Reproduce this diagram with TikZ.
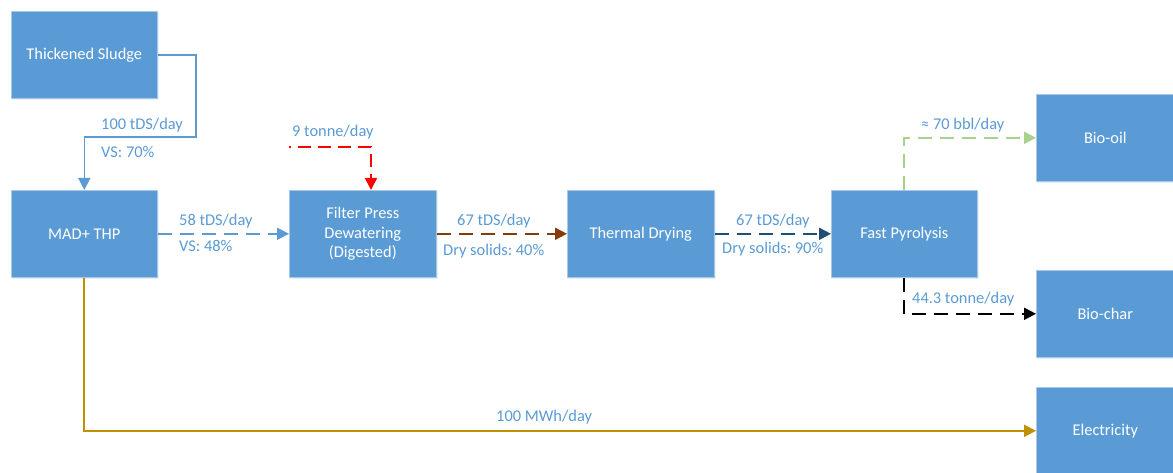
\documentclass[tikz,border=0pt]{standalone}
\usepackage{fontspec}
\setmainfont{Carlito}
\frenchspacing
\usetikzlibrary{arrows.meta,shadows}
\definecolor{boxblue}{HTML}{5B9BD5}
\definecolor{boxedge}{HTML}{A9C8E8}
\definecolor{labblue}{HTML}{5B9BD5}
\definecolor{brownline}{HTML}{843C0C}
\definecolor{navyline}{HTML}{1F4E79}
\definecolor{greenline}{HTML}{A9D18E}
\definecolor{goldline}{HTML}{BF9000}
\definecolor{redline}{HTML}{FF0000}
\begin{document}
\begin{tikzpicture}[x=1pt,y=-1pt,
  box/.style={fill=boxblue, draw=boxedge, line width=0.6pt, minimum height=87pt,
    text=white, font=\fontsize{16.4}{19.5}\selectfont, align=center, inner sep=0pt,
    anchor=north west, drop shadow={shadow xshift=1.5pt, shadow yshift=-1.5pt, fill=boxblue!25, opacity=0.6}},
  conn/.style={line width=2pt, -{Triangle[length=12pt,width=12pt]}},
  dashline/.style={dash pattern=on 14pt off 8pt},
  lab/.style={text=labblue, font=\fontsize{16.4}{19.5}\selectfont, anchor=west, inner sep=0pt}]
\useasboundingbox (0,0) rectangle (1173,473);
\fill[white] (0,0) rectangle (1173,473);
% boxes
\node[box, minimum width=146pt] (ts) at (11,11) {Thickened Sludge};
\node[box, minimum width=146pt] (mad) at (11,190) {MAD+ THP};
\node[box, minimum width=147pt] (fp) at (289,190) {Filter Press\\Dewatering\\(Digested)};
\node[box, minimum width=147pt] (td) at (567,190) {Thermal Drying};
\node[box, minimum width=146pt] (fpy) at (831,190) {Fast Pyrolysis};
\node[box, minimum width=150pt] (oil) at (1036,94) {\hspace*{-12pt}Bio-oil};
\node[box, minimum width=150pt] (char) at (1036,270) {\hspace*{-12pt}Bio-char};
\node[box, minimum width=150pt] (elec) at (1036,387) {\hspace*{-12pt}Electricity};
% helper coordinates
\coordinate (c1) at (196,137);
\coordinate (r0) at (289,147);
% connectors
\draw[conn, labblue, line width=1.6pt] (ts.east) -| (c1) -| (mad.north);
\draw[conn, labblue, dashline] (mad.east) -- (fp.west);
\draw[conn, redline, line width=1.4pt, dash pattern=on 13pt off 7pt, dash phase=11pt] (r0) -| ([xshift=82pt]fp.north west);
\draw[conn, brownline, dashline] (fp.east) -- (td.west);
\draw[conn, navyline, dashline] (td.east) -- (fpy.west);
\draw[conn, greenline, dashline] (fpy.north) |- (oil.west);
\draw[conn, black, dashline] (fpy.south) |- (char.west);
\draw[conn, goldline] (mad.south) |- (elec.west);
% labels
\node[lab] (l1) at (101,125) {100 tDS/day};
\node[lab] (l2) at (101,152) {VS: 70\%};
\node[lab] (l3) at (179,221) {58 tDS/day};
\node[lab] (l4) at (179,246) {VS: 48\%};
\node[lab] (l5) at (292,132) {9 tonne/day};
\node[lab] (l6) at (457,221) {67 tDS/day};
\node[lab] (l7) at (443,251) {Dry solids: 40\%};
\node[lab] (l8) at (736,221) {67 tDS/day};
\node[lab] (l9) at (722,249) {Dry solids: 90\%};
\node[lab] (l10) at (921,125) {≈ 70 bbl/day};
\node[lab] (l11) at (912,299) {44.3 tonne/day};
\node[lab] (l12) at (496,417) {100 MWh/day};
\end{tikzpicture}
\end{document}
